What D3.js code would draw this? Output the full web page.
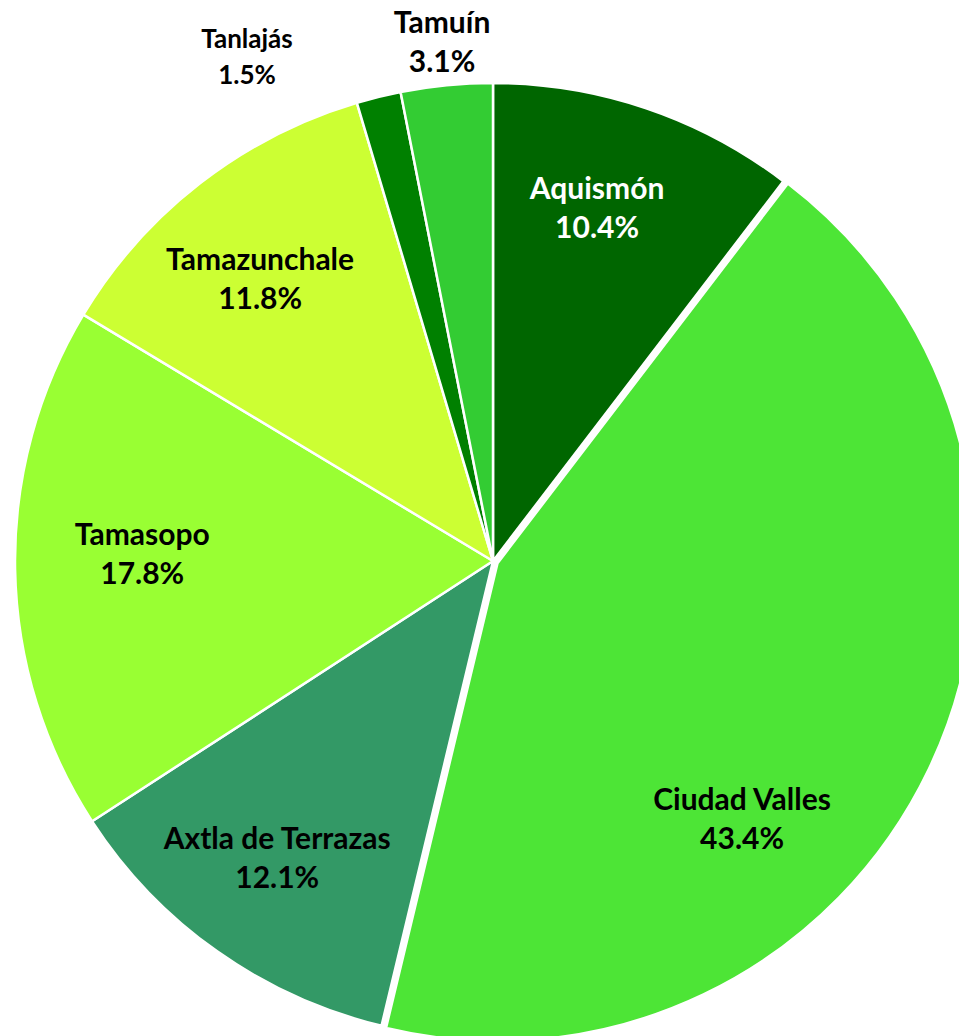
<!DOCTYPE html>
<html>
<head>
<meta charset="utf-8">
<script src="https://cdn.jsdelivr.net/npm/d3@7"></script>
<style>
  body { margin: 0; background: #ffffff; overflow: hidden; }
  text { font-family: Lato, "Open Sans", sans-serif; font-weight: bold; }
</style>
</head>
<body>
<svg id="drawing_region"></svg>
<script>
const categories = [ 'Aquismón', 'Ciudad Valles', 'Axtla de Terrazas', 'Tamasopo', 'Tamazunchale', 'Tanlajás', 'Tamuín' ];
const shares = [ 10.4, 43.4, 12.1, 17.8, 11.8, 1.5, 3.1 ];
const colors = [ '#006600', '#4de536', '#339966', '#99ff33', '#ccff33', '#008000', '#33cc33' ];

// label placement (Excel "best fit"): angle in degrees from 12 o'clock, k = fraction of radius
const labelPos = {
    'Aquismón': { angle: 16.4, k: 0.771 },
    'Ciudad Valles': { angle: 136, k: 0.75 },
    'Axtla de Terrazas': { angle: 216, k: 0.768 },
    'Tamasopo': { angle: 271.3, k: 0.734 },
    'Tamazunchale': { angle: 320.5, k: 0.766 },
    'Tanlajás': { angle: 334, k: 1.174, size: 26 },
    'Tamuín': { angle: 354.4, k: 1.092 }
};

const data = categories.map( (c, i) => ({ name: c, value: shares[i], color: colors[i] }) );

const config = { width: 959, height: 1036, cx: 493, cy: 561, radius: 478 };

const svg = d3.select( '#drawing_region' )
    .attr( 'width', config.width )
    .attr( 'height', config.height );

const g = svg.append( 'g' )
    .attr( 'transform', `translate(${config.cx}, ${config.cy})` );

const pie = d3.pie().sort( null ).value( d => d.value );
const arc = d3.arc().innerRadius( 0 ).outerRadius( config.radius );
const arcs = pie( data );

const explode = d => d.data.name == 'Ciudad Valles' ? 5 : 0;
const mid = d => ( d.startAngle + d.endAngle ) / 2;

g.selectAll( 'path' )
    .data( arcs )
    .enter()
    .append( 'path' )
    .attr( 'd', arc )
    .attr( 'fill', d => d.data.color )
    .attr( 'stroke', 'white' )
    .attr( 'stroke-width', 2.5 )
    .attr( 'stroke-linejoin', 'round' )
    .attr( 'transform', d => {
        const e = explode( d );
        return `translate(${e * Math.sin( mid( d ) )}, ${-e * Math.cos( mid( d ) )})`;
    } );

const labelXY = d => {
    const p = labelPos[d.data.name];
    const a = p.angle * Math.PI / 180;
    const r = p.k * config.radius;
    return [ r * Math.sin( a ), -r * Math.cos( a ) ];
};

const fontSize = d => labelPos[d.data.name].size || 30;

const labels = g.selectAll( '.label' )
    .data( arcs )
    .enter()
    .append( 'text' )
    .attr( 'class', 'label' )
    .attr( 'transform', d => `translate(${labelXY( d )})` )
    .style( 'text-anchor', 'middle' )
    .style( 'font-size', d => fontSize( d ) + 'px' )
    .attr( 'fill', d => d.data.name == 'Aquismón' ? 'white' : '#000' );

labels.append( 'tspan' )
    .attr( 'x', 0 )
    .attr( 'y', -8.5 )
    .text( d => d.data.name );

labels.append( 'tspan' )
    .attr( 'x', 0 )
    .attr( 'y', d => fontSize( d ) < 30 ? 27 : 30.5 )
    .text( d => d.data.value.toFixed( 1 ) + '%' );
</script>
</body>
</html>
